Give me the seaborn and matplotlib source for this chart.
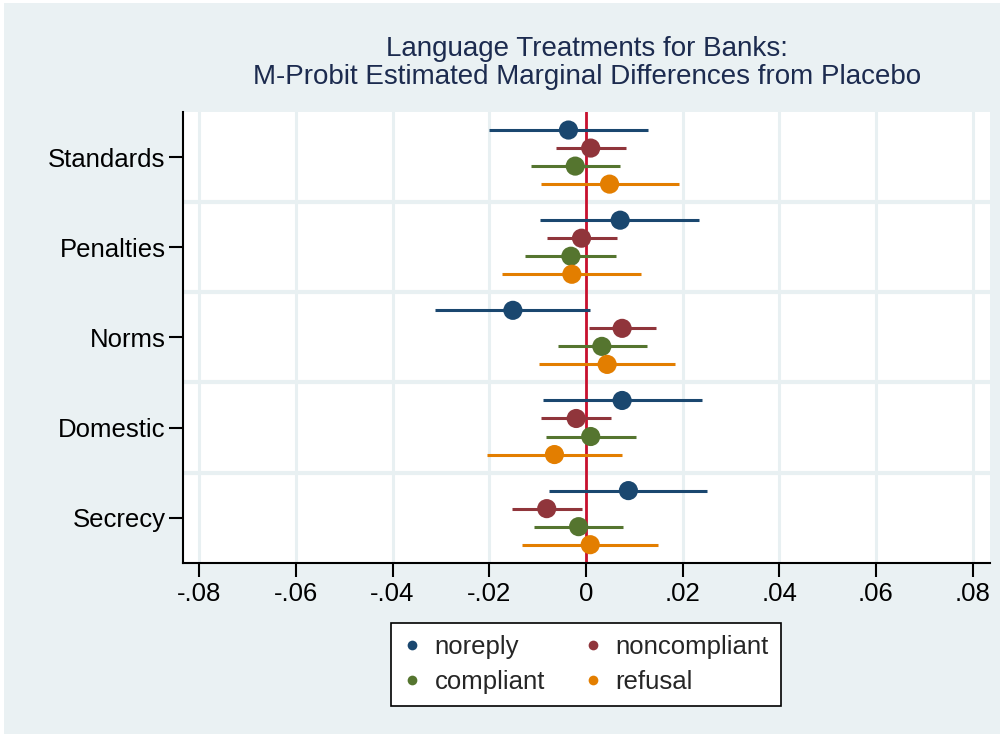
import numpy as np
import pandas as pd
import matplotlib
matplotlib.use("Agg")
import matplotlib.pyplot as plt
import seaborn as sns
from matplotlib.patches import Rectangle
from matplotlib.lines import Line2D

# Treatment conditions (rows) and outcome categories (series)
treatments = ["Standards", "Penalties", "Norms", "Domestic", "Secrecy"]
outcomes = ["noreply", "noncompliant", "compliant", "refusal"]

# Marginal differences from placebo, one list per outcome, ordered as treatments
noreply_est = [-0.0036, 0.0071, -0.0151, 0.0075, 0.0088]
noreply_lo = [-0.0200, -0.0094, -0.0312, -0.0089, -0.0077]
noreply_hi = [0.0128, 0.0235, 0.0009, 0.0241, 0.0251]

noncompliant_est = [0.0010, -0.0009, 0.0075, -0.0020, -0.0081]
noncompliant_lo = [-0.0062, -0.0080, 0.0007, -0.0092, -0.0153]
noncompliant_hi = [0.0083, 0.0064, 0.0145, 0.0053, -0.0008]

compliant_est = [-0.0022, -0.0031, 0.0033, 0.0010, -0.0015]
compliant_lo = [-0.0114, -0.0125, -0.0057, -0.0083, -0.0107]
compliant_hi = [0.0071, 0.0062, 0.0126, 0.0104, 0.0077]

refusal_est = [0.0049, -0.0029, 0.0044, -0.0065, 0.0009]
refusal_lo = [-0.0093, -0.0173, -0.0097, -0.0204, -0.0132]
refusal_hi = [0.0192, 0.0115, 0.0185, 0.0075, 0.0150]

x_ticks = [-0.08, -0.06, -0.04, -0.02, 0, 0.02, 0.04, 0.06, 0.08]
x_tick_labels = ["-.08", "-.06", "-.04", "-.02", "0", ".02", ".04", ".06", ".08"]

colors = {"noreply": "#1a476f", "noncompliant": "#90353b",
          "compliant": "#55752f", "refusal": "#e37e00"}
bg = "#eaf1f3"
grid_c = "#e8f0f2"

series = {
    "noreply": (noreply_est, noreply_lo, noreply_hi),
    "noncompliant": (noncompliant_est, noncompliant_lo, noncompliant_hi),
    "compliant": (compliant_est, compliant_lo, compliant_hi),
    "refusal": (refusal_est, refusal_lo, refusal_hi),
}
offsets = {"noreply": -0.3, "noncompliant": -0.1, "compliant": 0.1, "refusal": 0.3}

rows = []
for o in outcomes:
    est, lo, hi = series[o]
    for i, t in enumerate(treatments):
        rows.append({"treatment": t, "outcome": o, "est": est[i], "lo": lo[i],
                     "hi": hi[i], "ypos": i + offsets[o]})
df = pd.DataFrame(rows)

sns.set_theme(style="white")
plt.rcParams["font.family"] = ["Liberation Sans", "DejaVu Sans"]

fig = plt.figure(figsize=(10.03, 7.35), dpi=100)
fig.patch.set_facecolor("white")
fig.patches.append(Rectangle((4 / 1003, 1 / 735), 996 / 1003, 731 / 735,
                             transform=fig.transFigure, facecolor=bg,
                             edgecolor="none", zorder=-10))

ax = fig.add_axes([0.1822, 0.2344, 0.8048, 0.6132])
ax.set_facecolor("white")

# grid: vertical at ticks, horizontal between treatment groups
for xt in x_ticks:
    ax.axvline(xt, color=grid_c, lw=2.2, zorder=0)
for yb in [0.5, 1.5, 2.5, 3.5]:
    ax.axhline(yb, color=grid_c, lw=3, zorder=0)

ax.axvline(0, color="#c8102e", lw=2, zorder=1)

for o in outcomes:
    sub = df[df["outcome"] == o]
    ax.hlines(sub["ypos"], sub["lo"], sub["hi"], color=colors[o], lw=2.2, zorder=2)

sns.scatterplot(data=df, x="est", y="ypos", hue="outcome", palette=colors,
                hue_order=outcomes, s=190, edgecolor="none", linewidth=0,
                legend=False, ax=ax, zorder=3)

ax.set_xlim(-0.0834, 0.0836)
ax.set_ylim(4.5, -0.5)
ax.set_xticks(x_ticks)
ax.set_xticklabels(x_tick_labels)
ax.set_yticks(range(len(treatments)))
ax.set_yticklabels(treatments)
ax.set_xlabel("")
ax.set_ylabel("")
ax.tick_params(axis="both", which="major", direction="out", length=10,
               width=1.5, color="black", labelsize=18.5, labelcolor="black",
               bottom=True, left=True)
ax.tick_params(axis="y", pad=2.5)
ax.tick_params(axis="x", pad=4)

for side in ["top", "right"]:
    ax.spines[side].set_visible(False)
for side in ["left", "bottom"]:
    ax.spines[side].set_color("black")
    ax.spines[side].set_linewidth(1.5)

fig.text(0.585, 0.933, "Language Treatments for Banks:", ha="center", va="center",
         fontsize=20, color="#1c2b4f")
fig.text(0.585, 0.895, "M-Probit Estimated Marginal Differences from Placebo",
         ha="center", va="center", fontsize=20, color="#1c2b4f")

handles = [Line2D([], [], marker="o", linestyle="none", markersize=7,
                  markerfacecolor=colors[o], markeredgecolor="none", label=o)
           for o in ["noreply", "compliant", "noncompliant", "refusal"]]
leg = fig.legend(handles=handles, ncol=2, loc="center", bbox_to_anchor=(0.584, 0.096),
                 frameon=True, fontsize=18.5, handletextpad=0.55, columnspacing=1.5,
                 labelspacing=0.45, borderpad=0.45, fancybox=False, handlelength=0.7,
                 borderaxespad=0, framealpha=1)
leg.get_frame().set_edgecolor("black")
leg.get_frame().set_linewidth(1.2)
leg.get_frame().set_facecolor("white")

fig.savefig("out.png", dpi=100, facecolor=fig.get_facecolor())
